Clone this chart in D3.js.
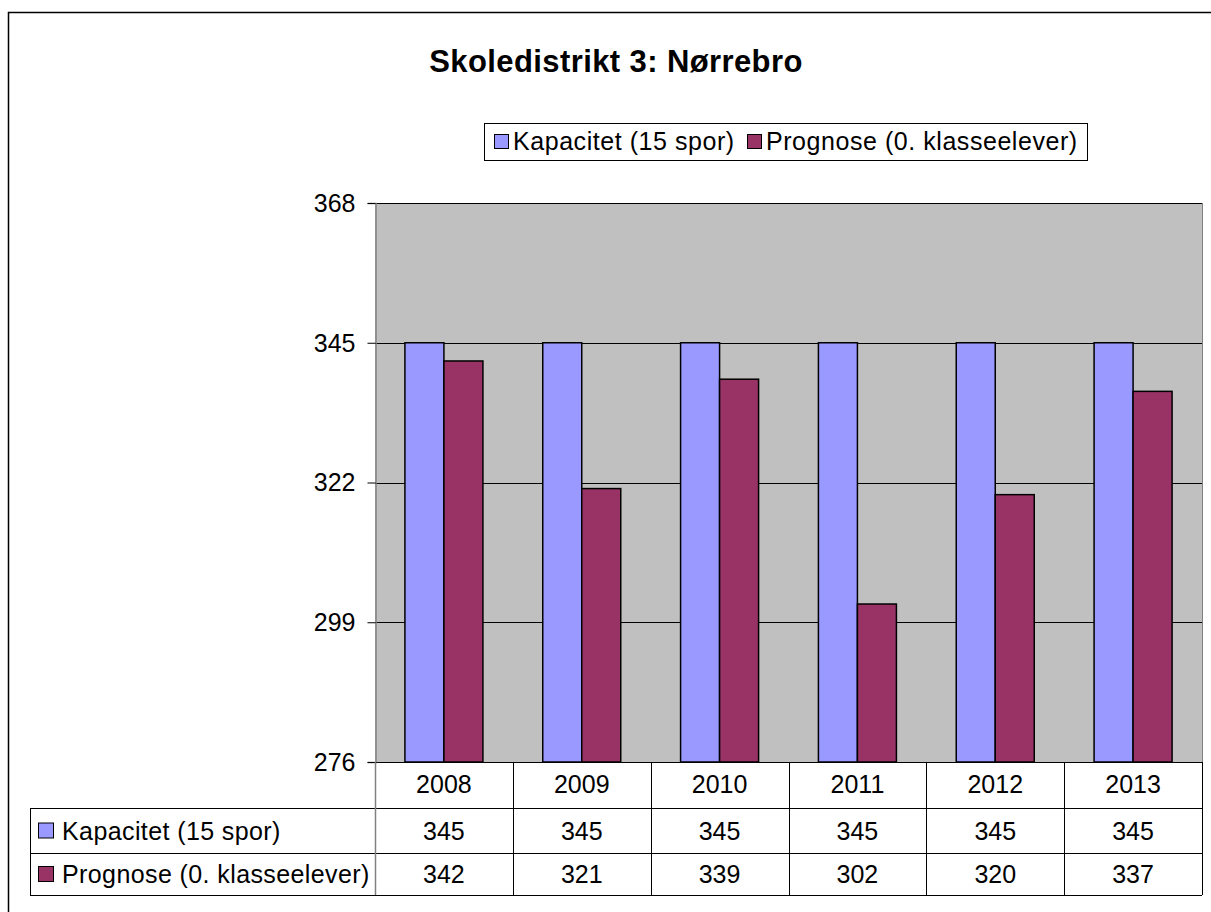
<!DOCTYPE html>
<html>
<head>
<meta charset="utf-8">
<script src="https://cdn.jsdelivr.net/npm/d3@7"></script>
<style>
  body { margin: 0; background: #fff; }
  text { font-family: "Liberation Sans", Arial, sans-serif; fill: #000; }
</style>
</head>
<body>
<svg width="1211" height="912"></svg>
<script>
const years = ["2008", "2009", "2010", "2011", "2012", "2013"]
const seriesNames = ["Kapacitet (15 spor)", "Prognose (0. klasseelever)"]
const kapacitet = [345, 345, 345, 345, 345, 345]
const prognose = [342, 321, 339, 302, 320, 337]
const yTicks = [276, 299, 322, 345, 368]
const colors = ["#9999ff", "#993366"]

const svg = d3.select("svg")

// outer frame (runs off the right / bottom edge)
svg.append("path")
  .attr("d", "M8.5,915 V12.5 H1215")
  .attr("fill", "none")
  .attr("stroke", "#000")
  .attr("stroke-width", 1.5)

svg.append("text")
  .attr("x", 616).attr("y", 72)
  .attr("text-anchor", "middle")
  .attr("font-size", 31).attr("font-weight", "bold")
  .attr("letter-spacing", 0.4)
  .text("Skoledistrikt 3: Nørrebro")

// legend
const lg = svg.append("g")
lg.append("rect")
  .attr("x", 484.5).attr("y", 123.5).attr("width", 603).attr("height", 37)
  .attr("fill", "#fff").attr("stroke", "#000")
const legendX = [494, 747]
seriesNames.forEach((s, i) => {
  lg.append("rect")
    .attr("x", legendX[i] + 0.5).attr("y", 134.5).attr("width", 14).attr("height", 14)
    .attr("fill", colors[i]).attr("stroke", "#000")
  lg.append("text")
    .attr("x", legendX[i] + 19).attr("y", 150)
    .attr("font-size", 25)
    .attr("letter-spacing", 0.55)
    .text(s)
})

const plotL = 375, plotR = 1202, plotT = 203, plotB = 762

const x = d3.scaleBand().domain(years).range([plotL, plotR])
const y = d3.scaleLinear().domain([276, 368]).range([plotB, plotT])

svg.append("rect")
  .attr("x", plotL).attr("y", plotT).attr("width", plotR - plotL).attr("height", plotB - plotT)
  .attr("fill", "#c0c0c0")

// gridlines
svg.append("g")
  .selectAll("line")
  .data(yTicks)
  .join("line")
  .attr("x1", plotL).attr("x2", plotR)
  .attr("y1", (d) => Math.round(y(d)) + 0.5)
  .attr("y2", (d) => Math.round(y(d)) + 0.5)
  .attr("stroke", "#000").attr("stroke-width", 1)

// right border of plot
svg.append("line")
  .attr("x1", plotR + 0.5).attr("x2", plotR + 0.5)
  .attr("y1", plotT).attr("y2", plotB)
  .attr("stroke", "#808080")

// bars
const bw = 39
const series = [kapacitet, prognose]
series.forEach((vals, si) => {
  svg.append("g")
    .selectAll("rect")
    .data(vals)
    .join("rect")
    .attr("x", (d, i) => x(years[i]) + x.bandwidth() / 2 - bw + si * bw)
    .attr("y", (d) => y(d))
    .attr("width", bw)
    .attr("height", (d) => plotB - y(d))
    .attr("fill", colors[si])
    .attr("stroke", "#000")
    .attr("stroke-width", 1.5)
})

// y axis
const yAxis = svg.append("g")
  .attr("transform", `translate(${plotL + 0.5},0)`)
  .call(d3.axisLeft(y).tickValues(yTicks).tickSize(8).tickPadding(12))
yAxis.select(".domain").attr("stroke", "#808080").attr("stroke-width", 1.5)
yAxis.selectAll(".tick line").attr("stroke", "#000")
yAxis.selectAll(".tick text")
  .attr("font-size", 25)
  .attr("font-family", "Liberation Sans, Arial, sans-serif")
  .attr("dy", "0.33em")

// data table
const rowTops = [762, 808, 853, 895]
const tableLeft = 30
const t = svg.append("g")

// horizontal lines
t.append("line")
  .attr("x1", plotL).attr("x2", plotR).attr("y1", rowTops[0] + 0.5).attr("y2", rowTops[0] + 0.5)
  .attr("stroke", "#000")
rowTops.slice(1).forEach((ry) => {
  t.append("line")
    .attr("x1", tableLeft).attr("x2", plotR).attr("y1", ry + 0.5).attr("y2", ry + 0.5)
    .attr("stroke", "#000")
})
// vertical lines
t.append("line")
  .attr("x1", tableLeft + 0.5).attr("x2", tableLeft + 0.5)
  .attr("y1", rowTops[1]).attr("y2", rowTops[3])
  .attr("stroke", "#000")
t.append("line")
  .attr("x1", plotL + 0.5).attr("x2", plotL + 0.5)
  .attr("y1", rowTops[0]).attr("y2", rowTops[3])
  .attr("stroke", "#808080").attr("stroke-width", 1.5)
years.forEach((yr) => {
  const xr = Math.round(x(yr) + x.bandwidth()) + 0.5
  t.append("line")
    .attr("x1", xr).attr("x2", xr).attr("y1", rowTops[0]).attr("y2", rowTops[3])
    .attr("stroke", "#000")
})

t.selectAll(".year")
  .data(years)
  .join("text")
  .attr("x", (d) => x(d) + x.bandwidth() / 2)
  .attr("y", (rowTops[0] + rowTops[1]) / 2 + 8)
  .attr("text-anchor", "middle")
  .attr("font-size", 25)
  .text((d) => d)

series.forEach((vals, si) => {
  const cy = (rowTops[si + 1] + rowTops[si + 2]) / 2
  t.append("rect")
    .attr("x", 38.5).attr("y", cy - 7.5).attr("width", 15).attr("height", 15)
    .attr("fill", colors[si]).attr("stroke", "#000")
  t.append("text")
    .attr("x", 62).attr("y", cy + 9)
    .attr("font-size", 25)
    .attr("letter-spacing", 0.4)
    .text(seriesNames[si])
  t.append("g")
    .selectAll("text")
    .data(vals)
    .join("text")
    .attr("x", (d, i) => x(years[i]) + x.bandwidth() / 2)
    .attr("y", cy + 9)
    .attr("text-anchor", "middle")
    .attr("font-size", 25)
    .text((d) => d)
})
</script>
</body>
</html>
